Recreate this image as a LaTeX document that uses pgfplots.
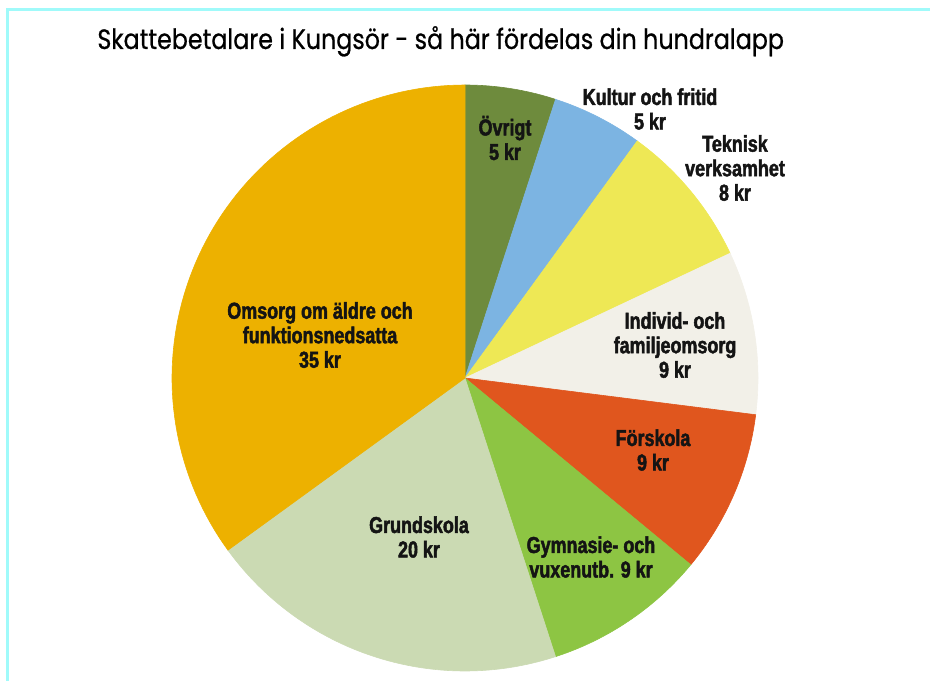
\documentclass[border=0pt]{standalone}
\usepackage{pgfplots}
\pgfplotsset{compat=1.18}
\usepackage{fontspec}
\setmainfont{Liberation Sans}
\newfontfamily\titlefont[FakeStretch=0.85, FakeBold=0.6]{Poppins}
\newfontfamily\labfont[FakeStretch=0.78, FakeBold=2]{Liberation Sans}
\definecolor{cOvr}{HTML}{6E8B3D}
\definecolor{cKul}{HTML}{7CB4E2}
\definecolor{cTek}{HTML}{EEE855}
\definecolor{cInd}{HTML}{F2F0E8}
\definecolor{cFor}{HTML}{E0561E}
\definecolor{cGym}{HTML}{8DC543}
\definecolor{cGru}{HTML}{CBDAB3}
\definecolor{cOms}{HTML}{EDB100}
\definecolor{cBorder}{HTML}{A0FAFA}
% slice: #1 cumulative start value, #2 value, #3 colour
\newcommand{\slice}[3]{%
  \addplot[fill=#3, draw=#3, line width=0.3pt, domain={90-3.6*(#1+#2)}:{90-3.6*(#1)}, samples=80]
    ({465+293*cos(x)},{303+293*sin(x)}) -- (axis cs:465,303) -- cycle;}
\begin{document}
\begin{tikzpicture}
\begin{axis}[
  scale only axis, width=465pt, height=340.5pt,
  xmin=0, xmax=930, ymin=0, ymax=681,
  hide axis, clip=false]
% values (kr of 100): Övrigt 5, Kultur 5, Teknisk 8, Individ 9, Förskola 9, Gymnasie 9, Grundskola 20, Omsorg 35
\slice{0}{5}{cOvr}
\slice{5}{5}{cKul}
\slice{10}{8}{cTek}
\slice{18}{9}{cInd}
\slice{27}{9}{cFor}
\slice{36}{9}{cGym}
\slice{45}{20}{cGru}
\slice{65}{35}{cOms}
\draw[cBorder, line width=1.5pt] (axis cs:7.5,0) -- (axis cs:7.5,671.5) -- (axis cs:930,671.5);
\node[anchor=base west, inner sep=0pt, font=\titlefont\fontsize{14}{16}\selectfont] at (axis cs:97,632) {Skattebetalare i Kungsör - så här fördelas din hundralapp};
\tikzset{lab/.style={align=center, inner sep=0pt, text=black!92, font=\labfont\bfseries\fontsize{11.5}{12.25}\selectfont}}
\node[lab] at (axis cs:505,543) {Övrigt\\5 kr};
\node[lab] at (axis cs:650,572) {Kultur och fritid\\5 kr};
\node[lab] at (axis cs:735,513) {Teknisk\\verksamhet\\8 kr};
\node[lab] at (axis cs:675,336) {Individ- och\\familjeomsorg\\9 kr};
\node[lab] at (axis cs:653,231) {Förskola\\9 kr};
\node[lab] at (axis cs:591,124) {Gymnasie- och\\vuxenutb. 9 kr};
\node[lab] at (axis cs:419,144) {Grundskola\\20 kr};
\node[lab] at (axis cs:320,346) {Omsorg om äldre och\\funktionsnedsatta\\35 kr};
\end{axis}
\pgfresetboundingbox
\path (current axis.south west) rectangle (current axis.north east);
\end{tikzpicture}
\end{document}
